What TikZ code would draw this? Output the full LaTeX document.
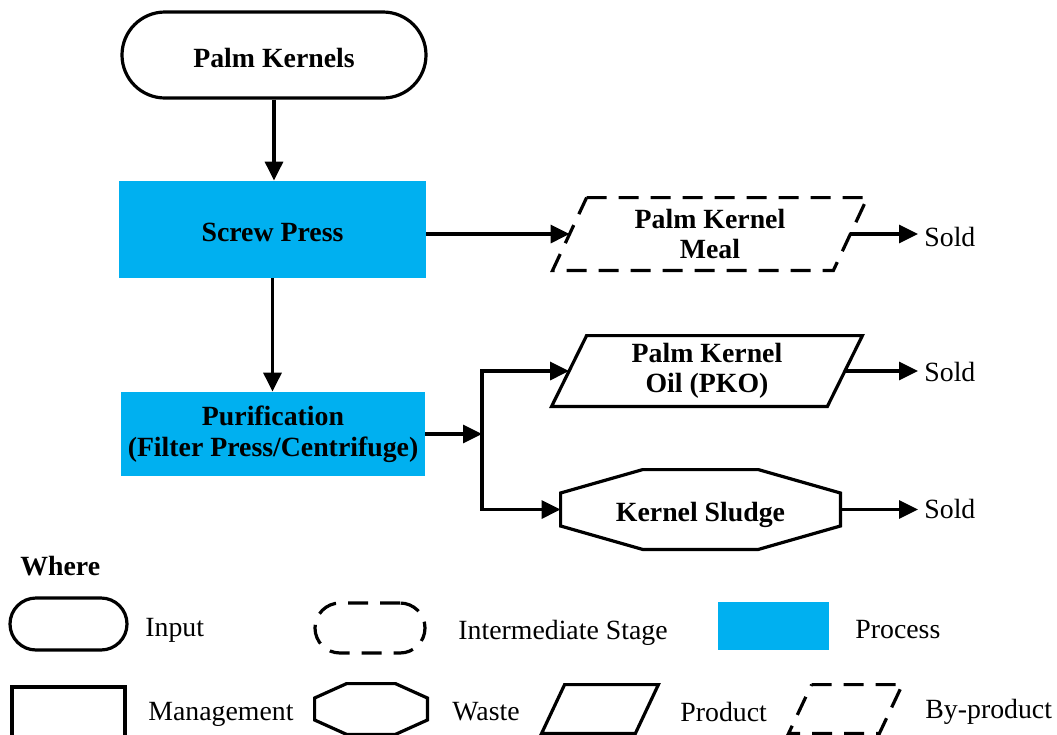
\documentclass[tikz,border=0pt]{standalone}
\usepackage{fontspec}
\setmainfont{Liberation Serif}
\usetikzlibrary{arrows.meta,calc}
\definecolor{proc}{HTML}{00B0F0}
\begin{document}
\begin{tikzpicture}[x=0.5pt,y=-0.5pt,
  every node/.style={font=\fontsize{13.9}{15.3}\selectfont, align=center, inner sep=0pt},
  bold/.style={font=\fontsize{13.9}{15.3}\selectfont\bfseries},
  oneline/.style={text height=12.2pt, text depth=0pt},
  ln/.style={line width=1.6pt},
  arr/.style={line width=1.6pt,-{Triangle[length=9.5pt,width=9pt]}},
  procbox/.style={fill=proc, draw=none},
  dsh/.style={dash pattern=on 10pt off 6pt},
  soldlbl/.style={anchor=west, inner xsep=3pt},
]
\useasboundingbox (0,0) rectangle (1057,735);

% main flow
\node[draw,ln,rounded corners=21.5pt,minimum width=152pt,minimum height=43pt,bold,oneline] (pk) at (274,55) {Palm Kernels};
\node[procbox,minimum width=153.5pt,minimum height=48.5pt,bold,oneline] (sp) at (272.5,229.5) {Screw Press};
\node[procbox,minimum width=152pt,minimum height=42pt,bold] (pu) at (273,434) {Purification\\(Filter Press/Centrifuge)};

\node[minimum width=140pt,minimum height=36pt,bold] (meal) at (710,234) {Palm Kernel\\Meal};
\draw[ln,dsh] ($(meal.north west)+(17,0)$) -- ($(meal.north east)+(17,0)$) -- ($(meal.south east)+(-17,0)$) -- ($(meal.south west)+(-17,0)$) -- cycle;

\node[minimum width=137.5pt,minimum height=35pt,bold] (pko) at (707,371) {Palm Kernel\\Oil (PKO)};
\draw[ln] ($(pko.north west)+(17.5,0)$) -- ($(pko.north east)+(17.5,0)$) -- ($(pko.south east)+(-17.5,0)$) -- ($(pko.south west)+(-17.5,0)$) -- cycle;

\node[minimum width=139.5pt,minimum height=39.5pt,bold,oneline] (sl) at (700.5,509.5) {Kernel Sludge};
\draw[ln] ($(sl.west)+(0,-16.5)$) -- ($(sl.north west)+(82,0)$) -- ($(sl.north east)+(-82,0)$) -- ($(sl.east)+(0,-16.5)$) -- ($(sl.east)+(0,16.5)$) -- ($(sl.south east)+(-82,0)$) -- ($(sl.south west)+(82,0)$) -- ($(sl.west)+(0,16.5)$) -- cycle;

\node[soldlbl] (s1) at (918,237) {Sold};
\node[soldlbl] (s2) at (918,372) {Sold};
\node[soldlbl] (s3) at (918,509) {Sold};

\draw[arr] (pk.south) -- (pk.south |- sp.north);
\draw[arr] (sp.south) -- (sp.south |- pu.north);
\draw[arr] (sp.east |- meal.west) -- (meal.west);
\draw[arr] (meal.east) -- (meal.east -| s1.west);

\coordinate (j) at (482,436);
\draw[arr] (pu.east) -- (pu.east -| j);
\draw[ln,line cap=rect] (j |- pko.west) -- (j |- sl.west);
\draw[arr] (j |- pko.west) -- (pko.west);
\draw[arr] (j |- sl.west) -- (sl.west);
\draw[arr] (pko.east) -- (pko.east -| s2.west);
\draw[arr] (sl.east) -- (sl.east -| s3.west);

% legend
\node[anchor=west,bold] (where) at (20,566) {Where};
\node[draw,ln,rounded corners=13pt,minimum width=58.5pt,minimum height=26pt] (lin) at (68.5,624) {};
\node[anchor=west] (tin) at (145,630) {Input};
\node[draw,ln,dsh,rounded corners=12.5pt,minimum width=55pt,minimum height=25pt] (lint) at (370,628) {};
\node[anchor=west] (tint) at (458,633) {Intermediate Stage};
\node[procbox,minimum width=55.5pt,minimum height=24pt] (lpr) at (773.5,626) {};
\node[anchor=west] (tpr) at (855,630) {Process};

\node[draw,ln,minimum width=56.5pt,minimum height=29pt] (lmg) at (68.5,716) {};
\node[anchor=west] (tmg) at (148,714) {Management};

\node[minimum width=56pt,minimum height=25pt] (lw) at (371,709) {};
\draw[ln] ($(lw.west)+(0,-11)$) -- ($(lw.north west)+(32,0)$) -- ($(lw.north east)+(-32,0)$) -- ($(lw.east)+(0,-11)$) -- ($(lw.east)+(0,11)$) -- ($(lw.south east)+(-32,0)$) -- ($(lw.south west)+(32,0)$) -- ($(lw.west)+(0,11)$) -- cycle;
\node[anchor=west] (tw) at (452,712) {Waste};

\node[minimum width=46.5pt,minimum height=24pt] (lp) at (600,709) {};
\draw[ln] ($(lp.north west)+(11.5,0)$) -- ($(lp.north east)+(11.5,0)$) -- ($(lp.south east)+(-11.5,0)$) -- ($(lp.south west)+(-11.5,0)$) -- cycle;
\node[anchor=west] (tp) at (680,712) {Product};

\node[minimum width=45pt,minimum height=24pt] (lb) at (845.5,709) {};
\draw[ln,dsh] ($(lb.north west)+(11.5,0)$) -- ($(lb.north east)+(11.5,0)$) -- ($(lb.south east)+(-11.5,0)$) -- ($(lb.south west)+(-11.5,0)$) -- cycle;
\node[anchor=west] (tb) at (925,712) {By-product};
\end{tikzpicture}
\end{document}
